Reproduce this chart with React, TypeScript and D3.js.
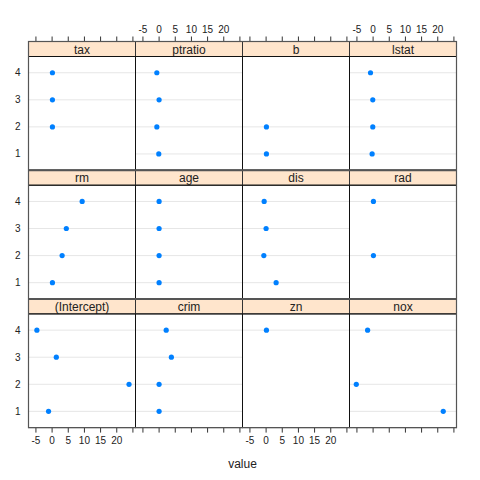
import React from 'react';
import * as d3 from 'd3';

// coefficient estimates per variable, levels 1..4 (null = not present)
const levels = [1, 2, 3, 4];
const panelRows = [
  ['tax', 'ptratio', 'b', 'lstat'],
  ['rm', 'age', 'dis', 'rad'],
  ['(Intercept)', 'crim', 'zn', 'nox'],
];
const tax = [null, 0.1, 0.1, 0.1];
const ptratio = [-0.1, -0.7, 0, -0.7];
const b = [0.1, 0.1, null, null];
const lstat = [-0.3, -0.1, -0.1, -0.8];
const rm = [0.1, 3.1, 4.4, 9.3];
const age = [0, 0, 0, 0];
const dis = [3.1, -0.7, 0, -0.6];
const rad = [null, 0.1, null, 0.1];
const intercept = [-1.1, 23.8, 1.3, -4.7];
const crim = [0, 0, 3.8, 2.2];
const zn = [null, null, null, 0.1];
const nox = [21.7, -5.2, null, -1.7];
const xTicks = [-5, 0, 5, 10, 15, 20, 25];
const xTickLabels = ['-5', '0', '5', '10', '15', '20', ''];

const series: Record<string, (number | null)[]> = {
  tax, ptratio, b, lstat, rm, age, dis, rad,
  '(Intercept)': intercept, crim, zn, nox,
};

const W = 480;
const H = 480;
const left = 28.5;
const colW = 107;
const top = 41.5;
const rowH = 128.7;
const stripH = 15;
const font = '"Liberation Sans", Arial, sans-serif';

export default function App() {
  const x = d3.scaleLinear().domain([-7.3, 25.8]).range([0, colW]);
  const y = d3.scaleLinear().domain([0.4, 4.6]).range([rowH - stripH, 0]);
  const right = left + colW * 4;
  const bottom = top + rowH * 3;

  return (
    <svg width={W} height={H} style={{ position: 'absolute', left: 0, top: 0 }} fontFamily={font}>
      <rect width={W} height={H} fill="white" />
      {panelRows.map((row, r) =>
        row.map((name, c) => {
          const px = left + c * colW;
          const sy = top + r * rowH;
          const py = sy + stripH;
          const vals = series[name];
          return (
            <g key={name}>
              <rect x={px} y={sy} width={colW} height={stripH} fill="#ffe5cc" stroke="#333" strokeWidth={1} />
              <text x={px + colW / 2} y={sy + stripH / 2 + 4.5} textAnchor="middle" fontSize={12} fill="#222">{name}</text>
              <g transform={`translate(${px},${py})`}>
                {levels.map((lv, i) => vals[i] == null ? null : (
                  <line key={'g' + lv} x1={0} x2={colW} y1={y(lv)} y2={y(lv)} stroke="#e6e6e6" strokeWidth={1} />
                ))}
                {levels.map((lv, i) => vals[i] == null ? null : (
                  <circle key={'p' + lv} cx={x(vals[i] as number)} cy={y(lv)} r={2.6} fill="#0080ff" />
                ))}
                <rect x={0} y={0} width={colW} height={rowH - stripH} fill="none" stroke="#111" strokeWidth={1} />
              </g>
            </g>
          );
        })
      )}
      {/* y axis labels */}
      {panelRows.map((_, r) =>
        levels.map(lv => (
          <text key={`y${r}-${lv}`} x={left - 8} y={top + r * rowH + stripH + y(lv) + 3.5}
            textAnchor="end" fontSize={10} fill="#222">{lv}</text>
        ))
      )}
      {/* top and bottom ticks, labels alternate between top and bottom */}
      {[0, 1, 2, 3].map(c => {
        const px = left + c * colW;
        const onTop = c % 2 === 1;
        return (
          <g key={'ax' + c}>
            {xTicks.map(t => (
              <g key={t}>
                <line x1={px + x(t)} x2={px + x(t)} y1={top} y2={top - 5} stroke="#333" />
                <line x1={px + x(t)} x2={px + x(t)} y1={bottom} y2={bottom + 5} stroke="#333" />
              </g>
            ))}
            {xTicks.map((t, i) => (
              <text key={'l' + t} x={px + x(t)} y={onTop ? top - 9 : bottom + 16}
                textAnchor="middle" fontSize={10} fill="#222">
                {xTickLabels[i]}
              </text>
            ))}
          </g>
        );
      })}
      <rect x={left} y={top} width={right - left} height={bottom - top} fill="none" stroke="#555" strokeWidth={1.2} />
      {[1, 2].map(r => (
        <line key={'h' + r} x1={left} x2={right} y1={top + r * rowH} y2={top + r * rowH} stroke="#555" strokeWidth={2} />
      ))}
      <text x={(left + right) / 2} y={468} textAnchor="middle" fontSize={12} fill="#222">value</text>
    </svg>
  );
}
